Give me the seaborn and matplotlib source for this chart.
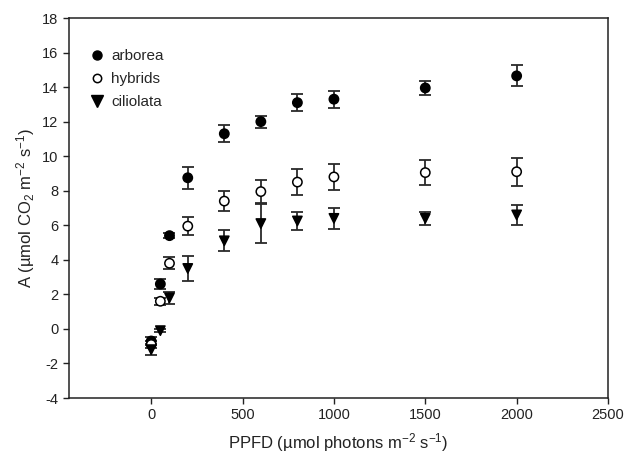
import numpy as np
import pandas as pd
import matplotlib
matplotlib.use('Agg')
import matplotlib.pyplot as plt
import seaborn as sns
from matplotlib.lines import Line2D

# light levels (PPFD)
ppfd = [0, 50, 100, 200, 400, 600, 800, 1000, 1500, 2000]

# net assimilation, mean and error for each group
arborea = [-0.7, 2.6, 5.4, 8.75, 11.3, 12.0, 13.1, 13.3, 13.95, 14.65]
arborea_err = [0.25, 0.3, 0.15, 0.65, 0.5, 0.35, 0.5, 0.5, 0.38, 0.6]
hybrids = [-0.9, 1.6, 3.8, 5.95, 7.4, 7.95, 8.5, 8.8, 9.05, 9.1]
hybrids_err = [0.2, 0.2, 0.35, 0.5, 0.6, 0.65, 0.75, 0.77, 0.73, 0.8]
ciliolata = [-1.2, -0.1, 1.8, 3.5, 5.1, 6.1, 6.25, 6.4, 6.4, 6.6]
ciliolata_err = [0.3, 0.1, 0.35, 0.7, 0.6, 1.15, 0.5, 0.62, 0.37, 0.57]

groups = ['arborea', 'hybrids', 'ciliolata']

df = pd.DataFrame({
    'PPFD': ppfd * 3,
    'A': arborea + hybrids + ciliolata,
    'err': arborea_err + hybrids_err + ciliolata_err,
    'group': [g for g in groups for _ in ppfd],
})

sns.set_style('ticks')
plt.rcParams['font.family'] = ['Liberation Sans', 'DejaVu Sans']
plt.rcParams['axes.unicode_minus'] = False
plt.rcParams['mathtext.fontset'] = 'custom'
plt.rcParams['mathtext.rm'] = 'Liberation Sans'
plt.rcParams['mathtext.it'] = 'Liberation Sans:italic'
plt.rcParams['mathtext.default'] = 'regular'

fig = plt.figure(figsize=(6.28, 4.59), dpi=100)
ax = fig.add_axes([69 / 628, 61 / 459, 539 / 628, 380 / 459])

# error bars first
for g in groups:
    d = df[df['group'] == g]
    ax.errorbar(d['PPFD'], d['A'], yerr=d['err'], fmt='none',
                ecolor='#2a2a2a', elinewidth=1.3, capsize=4.5, capthick=1.3, zorder=2)

# points
sns.scatterplot(data=df, x='PPFD', y='A', style='group', hue='group',
                markers={'arborea': 'o', 'hybrids': 'o', 'ciliolata': 'v'},
                palette={'arborea': 'black', 'hybrids': 'white', 'ciliolata': 'black'},
                s=45, edgecolor='black', linewidth=1.1, ax=ax, zorder=3, legend=False)

# legend
handles = [
    Line2D([], [], ls='none', marker='o', mfc='black', mec='black', ms=6.5),
    Line2D([], [], ls='none', marker='o', mfc='white', mec='black', ms=6, mew=1.1),
    Line2D([], [], ls='none', marker='v', mfc='black', mec='black', ms=8),
]
ax.legend(handles, groups, loc='upper left', bbox_to_anchor=(0.01, 0.955),
          frameon=False, fontsize=11, handletextpad=0.3, labelspacing=0.6,
          handlelength=1.2)

ax.set_xlim(-450, 2500)
ax.set_ylim(-4, 18)
ax.set_xticks([0, 500, 1000, 1500, 2000, 2500])
ax.set_yticks(np.arange(-4, 19, 2))
ax.tick_params(axis='both', labelsize=10.5, length=4, width=1, direction='out',
               colors='#222222')
for s in ax.spines.values():
    s.set_visible(True)
    s.set_linewidth(1.1)
    s.set_color('#222222')

ax.set_xlabel('PPFD (µmol photons m$^{-2}$ s$^{-1}$)', fontsize=12, labelpad=6,
              color='#222222')
ax.set_ylabel('A (µmol CO$_2$ m$^{-2}$ s$^{-1}$)', fontsize=12, labelpad=4,
              color='#222222')

fig.savefig('out.png', dpi=100)
